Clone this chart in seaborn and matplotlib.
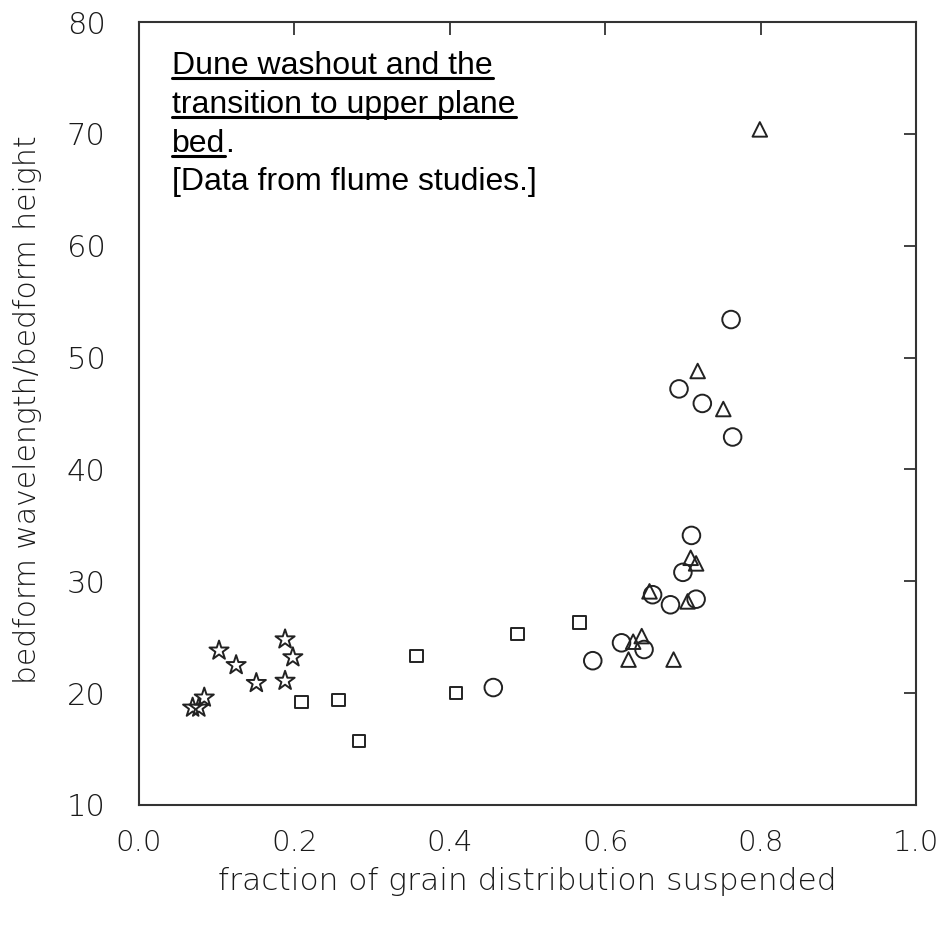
import matplotlib
matplotlib.use("Agg")
import matplotlib.pyplot as plt
import seaborn as sns
from matplotlib.lines import Line2D

# ---- data ----
star_x = [0.069, 0.077, 0.084, 0.103, 0.125, 0.151, 0.188, 0.188, 0.198]
star_y = [18.7, 18.7, 19.6, 23.8, 22.5, 20.9, 24.8, 21.1, 23.2]

square_x = [0.209, 0.257, 0.283, 0.357, 0.408, 0.487, 0.567]
square_y = [19.2, 19.4, 15.7, 23.3, 20.0, 25.3, 26.3]

circle_x = [0.456, 0.584, 0.621, 0.650, 0.661, 0.684, 0.700, 0.717, 0.711,
            0.695, 0.725, 0.764, 0.762]
circle_y = [20.5, 22.9, 24.5, 23.9, 28.8, 27.9, 30.8, 28.4, 34.1,
            47.2, 45.9, 42.9, 53.4]

tri_x = [0.630, 0.636, 0.647, 0.657, 0.688, 0.706, 0.710, 0.717, 0.719, 0.752, 0.799]
tri_y = [23.0, 24.6, 25.1, 29.1, 23.0, 28.2, 32.1, 31.6, 48.8, 45.4, 70.4]

x_ticks = [0.0, 0.2, 0.4, 0.6, 0.8, 1.0]
x_ticklabels = ["0.0", "0.2", "0.4", "0.6", "0.8", "1.0"]
y_ticks = [10, 20, 30, 40, 50, 60, 70, 80]

x_label = "fraction of grain distribution suspended"
y_label = "bedform wavelength/bedform height"
title_lines = ["Dune washout and the", "transition to upper plane", "bed"]
note_line = "[Data from flume studies.]"

# ---- figure ----
sns.set_style("white")
W, H = 938, 927
fig = plt.figure(figsize=(W / 100, H / 100), dpi=100)
ax = fig.add_axes([139 / W, 1 - 805 / H, (916 - 139) / W, (805 - 22) / H])

common = dict(facecolors="none", edgecolors="#222222", linewidth=1.4, ax=ax, legend=False, zorder=3)
sns.scatterplot(x=star_x, y=star_y, marker="*", s=210, **common)
sns.scatterplot(x=square_x, y=square_y, marker="s", s=80, **common)
sns.scatterplot(x=circle_x, y=circle_y, marker="o", s=160, **common)
sns.scatterplot(x=tri_x, y=tri_y, marker="^", s=110, **common)

ax.set_xlim(0, 1.0)
ax.set_ylim(10, 80)
ax.set_xticks(x_ticks)
ax.set_xticklabels(x_ticklabels)
ax.set_yticks(y_ticks)

for sp in ax.spines.values():
    sp.set_visible(True)
    sp.set_color("#333333")
    sp.set_linewidth(1.5)

ax.tick_params(axis="both", which="major", direction="in", length=9, width=1.3,
               color="#333333", top=True, right=True, labeltop=False, labelright=False)
ax.tick_params(axis="x", pad=17)
ax.tick_params(axis="y", pad=24)
for lab in ax.get_xticklabels():
    lab.set_fontfamily("DejaVu Sans")
    lab.set_fontweight("light")
    lab.set_fontsize(21)
    lab.set_color("#1a1a1a")
for lab in ax.get_yticklabels():
    lab.set_fontfamily("DejaVu Sans")
    lab.set_fontweight("light")
    lab.set_fontsize(22)
    lab.set_color("#1a1a1a")

fig.text(527 / W, 1 - 882 / H, x_label, ha="center", va="center",
         fontsize=22.5, family="DejaVu Sans", fontweight="light", color="#1a1a1a")
fig.text(28 / W, 1 - 410 / H, y_label, ha="center", va="center", rotation=90,
         fontsize=21.5, family="DejaVu Sans", fontweight="light", color="#1a1a1a")

# ---- annotation text with underlines ----
fig.canvas.draw()
renderer = fig.canvas.get_renderer()
x0 = 172
baselines = [74, 113, 152, 190]
tfont = dict(fontsize=23, family=["Liberation Sans", "DejaVu Sans"], color="black", va="baseline", ha="left")
last_x1 = None
for line, bl in zip(title_lines, baselines[:3]):
    t = fig.text(x0 / W, 1 - bl / H, line, **tfont)
    bb = t.get_window_extent(renderer)
    uy = (H - bl - 4) / H
    fig.add_artist(Line2D([bb.x0 / W, bb.x1 / W], [uy, uy], color="black", linewidth=2.2,
                          transform=fig.transFigure))
    last_x1 = bb.x1
fig.text(last_x1 / W, 1 - baselines[2] / H, ".", **tfont)
fig.text(x0 / W, 1 - baselines[3] / H, note_line, **tfont)

fig.savefig("out.png", dpi=100)
